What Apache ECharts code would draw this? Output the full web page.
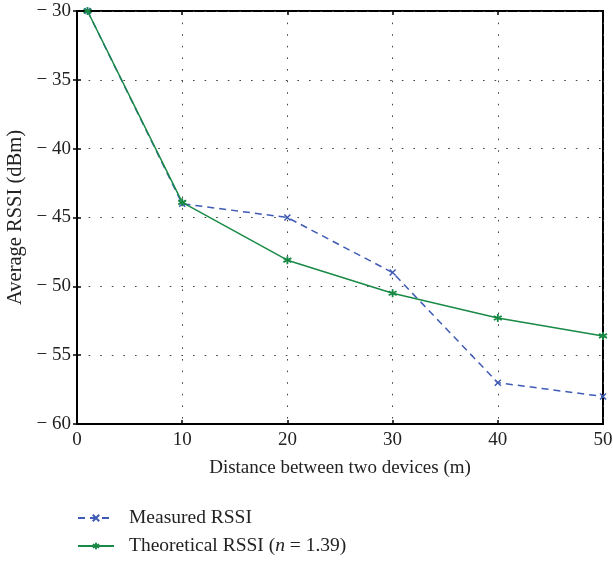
<!DOCTYPE html>
<html>
<head>
<meta charset="utf-8">
<script src="https://cdn.jsdelivr.net/npm/echarts@6/dist/echarts.min.js"></script>
<style>
  html, body { margin: 0; padding: 0; background: #fff; }
  #chart { width: 613px; height: 561px; }
</style>
</head>
<body>
<div id="chart"></div>
<script>
// Distances between the two devices (m)
const distances = [1, 10, 20, 30, 40, 50];
// Average RSSI (dBm)
const measuredRSSI = [-30, -44, -45, -49, -57, -58];
const theoreticalRSSI = [-30, -43.9, -48.1, -50.5, -52.3, -53.6];

const seriesNames = ['Measured RSSI', 'Theoretical RSSI (n = 1.39)'];
const xTicks = { min: 0, max: 50, interval: 10 };
const yTicks = { min: -60, max: -30, interval: 5 };

const FONT = '"Liberation Serif", "DejaVu Serif", serif';
const BLUE = '#3f5bb5';
const GREEN = '#188a45';

const crossPath = 'path://M0,0L10,10M10,0L0,10';
const starPath = 'path://M5,0L5,10M0.67,2.5L9.33,7.5M0.67,7.5L9.33,2.5';

const pairs = (ys) => distances.map((x, i) => [x, ys[i]]);
const minusLabel = (v) => v < 0 ? '\u2212 ' + Math.abs(v) : String(v);

const chart = echarts.init(document.getElementById('chart'), null, { renderer: 'canvas' });

const gridLine = { show: true, lineStyle: { color: '#444', width: 1, type: [1.6, 10] } };
const innerTick = { show: true, inside: true, length: 4, lineStyle: { color: '#000', width: 1.5 } };

chart.setOption({
  animation: false,
  backgroundColor: '#fff',
  textStyle: { fontFamily: FONT },
  grid: {
    left: 77, right: 10, top: 11, bottom: 137,
    outerBoundsMode: 'none', containLabel: false,
    show: true, borderColor: '#000', borderWidth: 2, backgroundColor: 'transparent'
  },
  legend: {
    orient: 'vertical',
    left: 77, top: 508, padding: 0,
    itemWidth: 36, itemHeight: 8, itemGap: 8,
    textStyle: {
      fontFamily: FONT, fontSize: 19.5, lineHeight: 20, color: '#222', padding: [0, 0, 0, 10],
      rich: { i: { fontFamily: FONT, fontSize: 19.5, lineHeight: 20, fontStyle: 'italic', color: '#222' } }
    },
    formatter: (name) => name === seriesNames[1]
      ? 'Theoretical RSSI ({i|n} = 1.39)'
      : name,
    data: seriesNames
  },
  xAxis: [{
    type: 'value', position: 'bottom',
    min: xTicks.min, max: xTicks.max, interval: xTicks.interval,
    name: 'Distance between two devices (m)',
    nameLocation: 'middle', nameGap: 35,
    nameTextStyle: { fontFamily: FONT, fontSize: 19, color: '#222' },
    axisLine: { show: true, onZero: false, lineStyle: { color: '#000', width: 2 } },
    axisTick: innerTick,
    axisLabel: { fontFamily: FONT, fontSize: 19, color: '#222', margin: 7 },
    splitLine: gridLine
  }, {
    type: 'value', position: 'top',
    min: xTicks.min, max: xTicks.max, interval: xTicks.interval,
    axisLine: { show: false },
    axisTick: innerTick,
    axisLabel: { show: false },
    splitLine: { show: false }
  }],
  yAxis: [{
    type: 'value', position: 'left',
    min: yTicks.min, max: yTicks.max, interval: yTicks.interval,
    name: 'Average RSSI (dBm)',
    nameLocation: 'middle', nameGap: 51, nameRotate: 90,
    nameTextStyle: { fontFamily: FONT, fontSize: 20.5, color: '#222' },
    axisLine: { show: true, onZero: false, lineStyle: { color: '#000', width: 2 } },
    axisTick: innerTick,
    axisLabel: { fontFamily: FONT, fontSize: 19, color: '#222', margin: 6, formatter: minusLabel },
    splitLine: gridLine
  }, {
    type: 'value', position: 'right',
    min: yTicks.min, max: yTicks.max, interval: yTicks.interval,
    axisLine: { show: false },
    axisTick: innerTick,
    axisLabel: { show: false },
    splitLine: { show: false }
  }],
  series: [{
    name: seriesNames[0],
    type: 'line',
    data: pairs(measuredRSSI),
    symbol: crossPath, symbolSize: 6,
    lineStyle: { color: BLUE, width: 1.5, type: [7, 5] },
    itemStyle: { color: BLUE, borderColor: BLUE, borderWidth: 1.5 },
    z: 3
  }, {
    name: seriesNames[1],
    type: 'line',
    data: pairs(theoreticalRSSI),
    symbol: starPath, symbolSize: 8,
    lineStyle: { color: GREEN, width: 1.5 },
    itemStyle: { color: GREEN, borderColor: GREEN, borderWidth: 1.8 },
    z: 4
  }]
});
</script>
</body>
</html>
